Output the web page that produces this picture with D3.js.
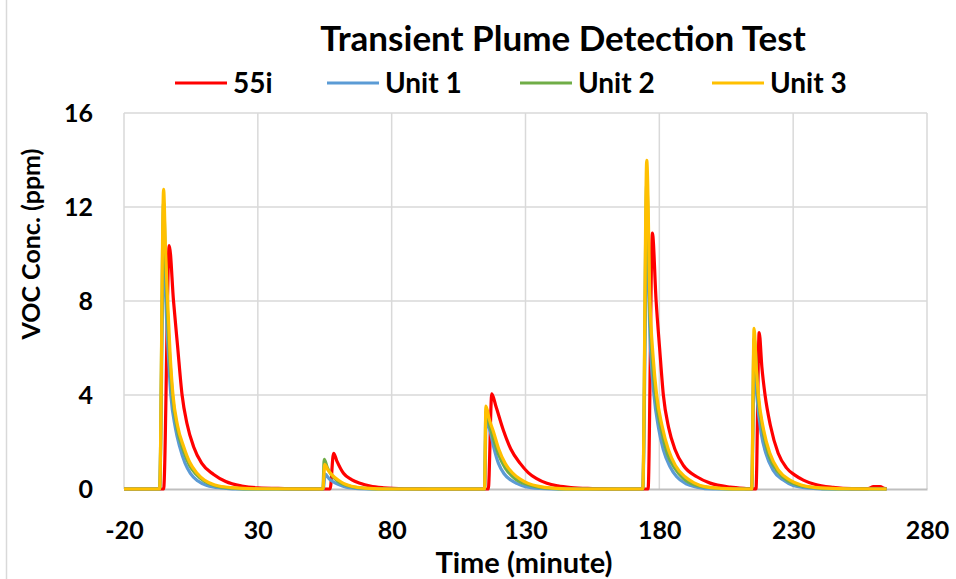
<!DOCTYPE html>
<html>
<head>
<meta charset="utf-8">
<script src="https://cdn.jsdelivr.net/npm/d3@7"></script>
<style>
  body { margin: 0; background: #fff; }
  text { font-family: Lato, "Open Sans", sans-serif; font-weight: 700; fill: #000; }
</style>
</head>
<body>
<div id="plot"></div>
<script>
// series: [time (minute), VOC conc. (ppm)]
var s55i = [[-20,0],[-5.2,0],[-3.1,10.36],[-1.5,8.0],[0,6.1],[1.7,4.0],[3.5,2.8],[6,1.8],[9,1.1],[13.5,0.62],[18,0.32],[24,0.13],[30,0.05],[40,0.02],
  [57,0],[58.3,1.52],[59.5,1.2],[62,0.67],[65,0.4],[68.2,0.24],[72,0.12],[77,0.05],[85,0.01],[95,0],
  [116.1,0],[117.4,4.05],[119,3.5],[121.7,2.51],[124.5,1.7],[128,1.09],[131,0.7],[134,0.45],[138,0.24],[142,0.13],[147,0.06],[155,0.02],[165,0],
  [175.8,0],[177.4,10.89],[178.8,8.0],[180.1,6.0],[181.5,4.0],[183.5,2.6],[185.9,1.67],[189,1.0],[194,0.52],[199,0.25],[206.4,0.08],[213,0.02],
  [216.1,0],[217.3,6.66],[218.3,5.2],[219.5,4.0],[221.5,2.7],[224.4,1.52],[227.5,0.9],[230.5,0.6],[233.8,0.38],[238,0.2],[244.9,0.07],[252,0.02],[258,0.02],[260,0.1],[262.5,0.1],[264,0.03],[264.9,0]]

var unit1 = [[-20,0],[-6.7,0],[-5.2,10.0],[-4,7.0],[-2.5,4.0],[-0.8,2.6],[0.8,1.8],[2.8,1.1],[4.8,0.67],[7.5,0.35],[11,0.15],[16,0.05],[25,0],
  [54.4,0],[55.2,0.63],[56.5,0.45],[58,0.32],[60,0.2],[63,0.08],[68,0.02],[75,0],
  [114.7,0],[115.3,2.9],[116.8,2.45],[118.3,1.7],[119.9,1.09],[122,0.65],[124.5,0.38],[126.7,0.24],[130,0.1],[135,0.03],[145,0],
  [173.8,0],[175.4,11.0],[176.5,6.5],[178,4.0],[179.7,2.6],[181.5,1.67],[184,0.95],[186.5,0.52],[190,0.22],[194,0.08],[200,0],
  [214.5,0],[215.5,5.5],[216.4,4.0],[218,2.4],[219.8,1.52],[222.5,0.8],[226.3,0.38],[230,0.15],[236,0.04],[245,0],[264.9,0]]

var unit2 = [[-20,0],[-6.7,0],[-5.2,12.2],[-4.5,9.6],[-3.8,7.6],[-1.9,4.0],[0,2.5],[2,1.7],[4.5,1.0],[7,0.62],[10,0.33],[14,0.14],[20,0.04],[30,0],
  [54.3,0],[54.8,1.26],[56,0.9],[57.5,0.6],[60,0.32],[62,0.2],[65,0.1],[70,0.03],[78,0],
  [114.7,0],[115.2,3.3],[116.6,2.7],[118,2.15],[120,1.45],[122.4,0.9],[126,0.45],[131,0.18],[137,0.05],[148,0],
  [173.8,0],[175.3,13.0],[176.5,7.5],[178.8,3.8],[181,2.4],[183,1.5],[186,0.85],[189,0.45],[196,0.1],[206,0],
  [214.5,0],[215.4,6.4],[216.9,3.9],[219,2.3],[221,1.4],[224.5,0.7],[228,0.35],[236,0.08],[246,0],[264.9,0]]

var unit3 = [[-20,0],[-6.7,0],[-5.2,12.75],[-4.5,10.2],[-3.7,8.0],[-2.8,5.8],[-1.7,4.0],[0,2.7],[2.3,1.8],[4.5,1.15],[7.3,0.67],[10,0.38],[14,0.17],[20,0.06],[30,0.01],
  [54.3,0],[55.0,1.05],[56,0.85],[57.7,0.6],[60,0.38],[62,0.24],[65,0.12],[70,0.04],[80,0],
  [114.7,0],[115.2,3.53],[116.5,2.95],[118,2.45],[120,1.7],[122.4,1.09],[125,0.7],[128,0.42],[131,0.24],[135,0.11],[140,0.04],[150,0],
  [173.8,0],[175.3,13.98],[176.5,8.0],[177.7,5.6],[179,4.0],[181,2.7],[183.4,1.67],[186,1.0],[189.6,0.52],[193,0.26],[197,0.1],[203,0.03],[212,0],
  [214.5,0],[215.4,6.84],[216.2,5.2],[217,4.0],[219,2.5],[221.3,1.52],[224.5,0.8],[228.8,0.38],[233,0.17],[240,0.05],[250,0.01],[264.9,0]]

var seriesNames = ['55i', 'Unit 1', 'Unit 2', 'Unit 3']
var seriesColors = ['#ff0000', '#5b9bd5', '#70ad47', '#ffc000']
var seriesData = [s55i, unit1, unit2, unit3]
var xTicks = [-20, 30, 80, 130, 180, 230, 280]
var yTicks = [0, 4, 8, 12, 16]

var W = 956, H = 579
var margin = { top: 113, right: 29, bottom: 90, left: 124 }
  , width = W - margin.left - margin.right
  , height = H - margin.top - margin.bottom

var root = d3.select("#plot")
  .append("svg")
  .attr("width", W)
  .attr("height", H)

// chart frame edge on the left
root.append("line")
  .attr("x1", 6.5).attr("x2", 6.5)
  .attr("y1", 0).attr("y2", H)
  .attr("stroke", "#d9d9d9")
  .attr("stroke-width", 1.5)

var svg = root.append("g")
  .attr("transform", "translate(" + margin.left + "," + margin.top + ")")

var xScale = d3.scaleLinear()
  .domain([-20, 280])
  .range([0, width])

var yScale = d3.scaleLinear()
  .domain([0, 16])
  .range([height, 0])

// gridlines
svg.append("g")
  .selectAll("line")
  .data(yTicks.slice(1))
  .enter()
  .append("line")
  .attr("x1", 0).attr("x2", width)
  .attr("y1", d => yScale(d)).attr("y2", d => yScale(d))
  .attr("stroke", "#d9d9d9")
  .attr("stroke-width", 1.5)

svg.append("g")
  .selectAll("line")
  .data(xTicks)
  .enter()
  .append("line")
  .attr("x1", d => xScale(d)).attr("x2", d => xScale(d))
  .attr("y1", 0).attr("y2", height)
  .attr("stroke", "#d9d9d9")
  .attr("stroke-width", 1.5)

// axes
var xAxis = svg.append("g")
  .attr("transform", "translate(0," + height + ")")
  .call(d3.axisBottom(xScale).tickValues(xTicks).tickFormat(d => String(d)).tickSize(0).tickPadding(32))
xAxis.select(".domain").attr("stroke", "#bfbfbf").attr("stroke-width", 2)
xAxis.selectAll("text").style("font-size", "25px").style("font-family", "Lato, sans-serif")

var yAxis = svg.append("g")
  .call(d3.axisLeft(yScale).tickValues(yTicks).tickSize(0).tickPadding(31))
yAxis.select(".domain").remove()
yAxis.selectAll("text").style("font-size", "25px").style("font-family", "Lato, sans-serif")

var line = d3.line()
  .x(d => xScale(d[0]))
  .y(d => yScale(d[1]))
  .curve(d3.curveMonotoneX)

svg.selectAll(".series")
  .data(seriesData)
  .enter()
  .append("path")
  .attr("class", "series")
  .attr("fill", "none")
  .attr("stroke", (d, i) => seriesColors[i])
  .attr("stroke-width", 3.2)
  .attr("stroke-linejoin", "round")
  .attr("d", line)

// title and axis titles
root.append("text")
  .attr("x", 563)
  .attr("y", 51)
  .attr("text-anchor", "middle")
  .style("font-size", "35px")
  .text("Transient Plume Detection Test")

root.append("text")
  .attr("x", 524)
  .attr("y", 573)
  .attr("text-anchor", "middle")
  .style("font-size", "29px")
  .text("Time (minute)")

root.append("text")
  .attr("transform", "translate(40,244) rotate(-90)")
  .attr("text-anchor", "middle")
  .style("font-size", "25px")
  .text("VOC Conc. (ppm)")

// legend
var legendX = [175, 327, 520, 712]
var legend = root.append("g")
  .selectAll("g")
  .data(seriesNames)
  .enter()
  .append("g")
  .attr("transform", (d, i) => "translate(" + legendX[i] + ",83)")

legend.append("line")
  .attr("x1", 0).attr("x2", 52)
  .attr("stroke", (d, i) => seriesColors[i])
  .attr("stroke-width", 3.2)

legend.append("text")
  .attr("x", 58)
  .attr("y", 10)
  .style("font-size", "28px")
  .text(d => d)
</script>
</body>
</html>
